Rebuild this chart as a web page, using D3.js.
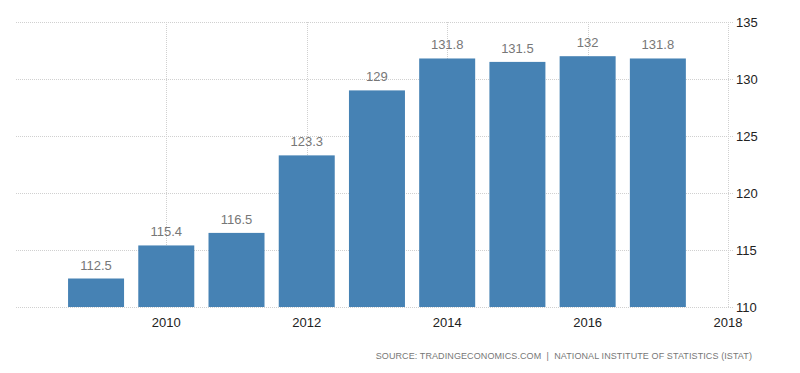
<!DOCTYPE html>
<html>
<head>
<meta charset="utf-8">
<script src="https://cdn.jsdelivr.net/npm/d3@7"></script>
<style>
  body { margin: 0; background: #fff; }
  svg { display: block; font-family: "Liberation Sans", Arial, sans-serif; }
</style>
</head>
<body>
<svg></svg>
<script>
const years = [2009, 2010, 2011, 2012, 2013, 2014, 2015, 2016, 2017];
const values = [112.5, 115.4, 116.5, 123.3, 129, 131.8, 131.5, 132, 131.8];
const yTicks = [110, 115, 120, 125, 130, 135];
const xTicks = [2010, 2012, 2014, 2016, 2018];
const source = "SOURCE: TRADINGECONOMICS.COM  |  NATIONAL INSTITUTE OF STATISTICS (ISTAT)";

const width = 800, height = 373;
const svg = d3.select("svg").attr("width", width).attr("height", height);

const plotLeft = 16, plotRight = 733, plotTop = 22, plotBottom = 307;

const x = d3.scaleLinear().domain([2007.86, 2018.07]).range([plotLeft, plotRight]);
const y = d3.scaleLinear().domain([110, 135]).range([plotBottom, plotTop]);
const barW = 56;

// horizontal grid
svg.append("g").selectAll("line")
    .data(yTicks)
    .enter().append("line")
    .attr("x1", plotLeft).attr("x2", plotRight)
    .attr("y1", d => Math.round(y(d)) + 0.5).attr("y2", d => Math.round(y(d)) + 0.5)
    .attr("stroke", "#d0d0d0").attr("stroke-dasharray", "1,1");

// vertical grid
svg.append("g").selectAll("line")
    .data(xTicks)
    .enter().append("line")
    .attr("x1", d => Math.round(x(d)) + 0.5).attr("x2", d => Math.round(x(d)) + 0.5)
    .attr("y1", plotTop).attr("y2", plotBottom)
    .attr("stroke", "#d0d0d0").attr("stroke-dasharray", "1,1");

// bars
svg.append("g").selectAll("rect")
    .data(values)
    .enter().append("rect")
    .attr("x", (d, i) => x(years[i]) - barW / 2)
    .attr("width", barW)
    .attr("y", d => y(d))
    .attr("height", d => plotBottom - y(d))
    .attr("fill", "#4682b4");

// value labels
svg.append("g").selectAll("text")
    .data(values)
    .enter().append("text")
    .attr("x", (d, i) => x(years[i]))
    .attr("y", d => y(d) - 9)
    .attr("text-anchor", "middle")
    .attr("font-size", 13)
    .attr("fill", "#777")
    .text(d => d);

// y axis labels (right)
svg.append("g").selectAll("text")
    .data(yTicks)
    .enter().append("text")
    .attr("x", plotRight + 3)
    .attr("y", d => y(d) + 5)
    .attr("font-size", 13)
    .attr("fill", "#222")
    .text(d => d);

// x axis labels
svg.append("g").selectAll("text")
    .data(xTicks)
    .enter().append("text")
    .attr("x", d => x(d))
    .attr("y", 327)
    .attr("text-anchor", "middle")
    .attr("font-size", 13)
    .attr("fill", "#222")
    .text(d => d);

// source
svg.append("text")
    .attr("x", 752)
    .attr("y", 359)
    .attr("text-anchor", "end")
    .attr("font-size", 9)
    .attr("letter-spacing", 0.1)
    .attr("fill", "#777")
    .style("white-space", "pre")
    .text(source);
</script>
</body>
</html>
